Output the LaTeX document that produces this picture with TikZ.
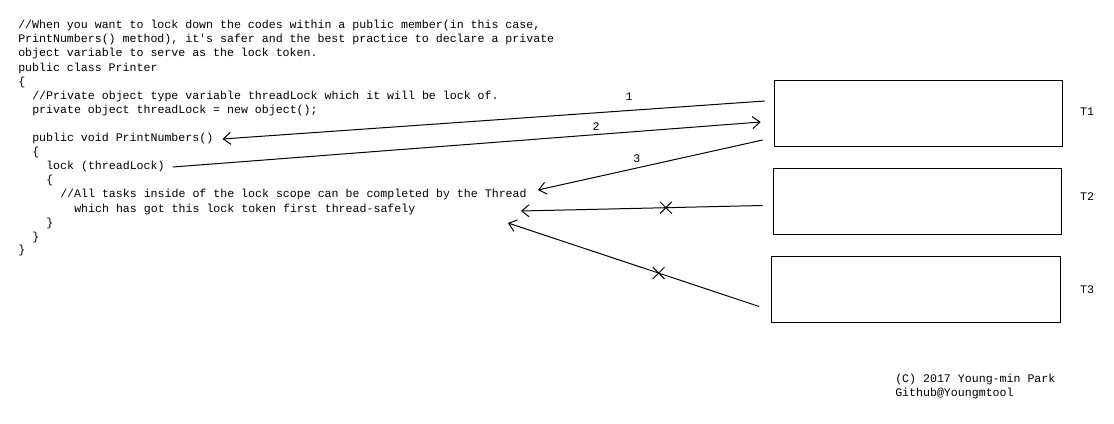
\documentclass[tikz,border=0pt]{standalone}
\usepackage{fontspec}
\setmonofont{Liberation Mono}
\usetikzlibrary{arrows.meta,positioning,calc,shapes.misc}
\tikzset{
  code/.style    ={anchor=west, inner sep=0pt,
                   font=\ttfamily\fontsize{8.7}{10.5}\selectfont},
  thread/.style  ={draw, line width=0.75pt, minimum width=216.5pt,
                   minimum height=50pt, inner sep=0pt},
  tlabel/.style  ={inner sep=0pt, font=\ttfamily\fontsize{8.7}{10.5}\selectfont},
  num/.style     ={inner sep=0pt, font=\ttfamily\fontsize{8.7}{10.5}\selectfont},
  barb/.style    ={-{Straight Barb[length=5.5pt,width=9pt]}, line width=0.75pt},
  plain/.style   ={line width=0.75pt},
  cross/.style   ={draw, cross out, line width=0.75pt, minimum size=8pt,
                   inner sep=0pt},
}

\begin{document}
\begin{tikzpicture}[x=0.75pt,y=-0.75pt]
  \useasboundingbox (0,0) rectangle (1114,424);

  % source code
  \node[code] (c1)  at (18,26)  {//When you want to lock down the codes within a public member(in this case,};
  \node[code] (c2)  at (18,40)  {PrintNumbers() method), it's safer and the best practice to declare a private};
  \node[code] (c3)  at (18,54)  {object variable to serve as the lock token.};
  \node[code] (c4)  at (18,69)  {public class Printer};
  \node[code] (c5)  at (18,83)  {\{};
  \node[code] (c6)  at (32,97)  {//Private object type variable threadLock which it will be lock of.};
  \node[code] (c7)  at (32,111) {private object threadLock = new object();};
  \node[code] (pn)  at (32,139) {public void PrintNumbers()};
  \node[code] (c10) at (32,153) {\{};
  \node[code] (lk)  at (46,167) {lock (threadLock)};
  \node[code] (c12) at (46,181) {\{};
  \node[code] (th)  at (60,195) {//All tasks inside of the lock scope can be completed by the Thread};
  \node[code] (wh)  at (74,210) {which has got this lock token first thread-safely};
  \node[code] (c15) at (46,224) {\}};
  \node[code] (c16) at (32,238) {\}};
  \node[code] (c17) at (18,251) {\}};

  % threads
  \node[thread] (t1) at (918.5,113.5) {};
  \node[thread] (t2) at (917.5,201.5) {};
  \node[thread] (t3) at (916,289.5)   {};
  \node[tlabel] (l1) at (1087,112) {T1};
  \node[tlabel] (l2) at (1087,197) {T2};
  \node[tlabel] (l3) at (1087,290) {T3};

  % end points
  \coordinate (s1) at ($(t1.west)+(-9,-12.5)$);
  \coordinate (e2) at ($(t1.west)+(-13,8.5)$);
  \coordinate (s3) at ($(t1.west)+(-11,26.5)$);
  \coordinate (s4) at ($(t2.west)+(-10,4)$);
  \coordinate (s5) at ($(t3.west)+(-12,17)$);
  \coordinate (e4) at ($(th.east)+(-6,16)$);
  \coordinate (e5) at ($(th.east)+(-19,28)$);

  \draw[barb] (s1) -- node[num,pos=0.25,above=7pt] (n1) {1} ($(pn.east)+(9,0)$);
  \draw[barb] ($(lk.east)+(8,0)$) -- node[num,pos=0.72,above=2.5pt] (n2) {2} (e2);
  \draw[barb] (s3) -- node[num,pos=0.56,above=3.5pt] (n3) {3} ($(th.east)+(11,-5)$);
  \draw[barb] (s4) -- node[cross,pos=0.4] (x4) {} (e4);
  \draw[barb] (s5) -- node[cross,pos=0.4] (x5) {} (e5);

  % credits
  \node[code,align=left] (cr) at (895,386) {(C) 2017 Young-min Park\\Github@Youngmtool};
\end{tikzpicture}
\end{document}
